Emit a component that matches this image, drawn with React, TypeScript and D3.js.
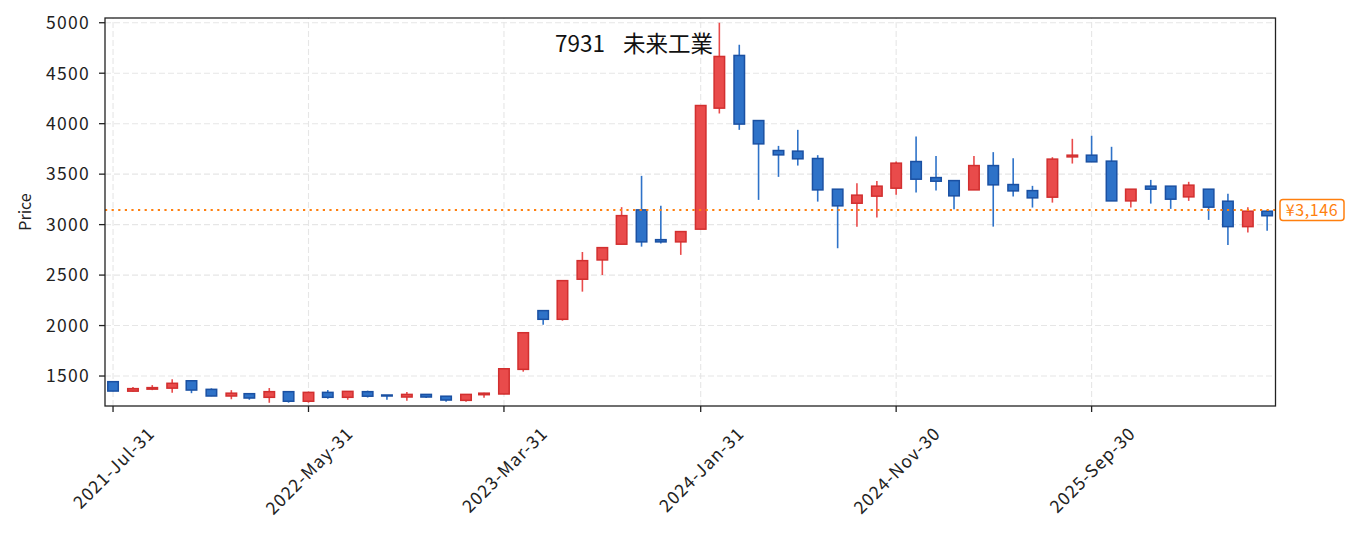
import * as d3 from "d3";
import {useEffect, useRef} from "react";

// monthly candles, month-end dates
const dates = [
    "2021-07-31", "2021-08-31", "2021-09-30", "2021-10-31", "2021-11-30", "2021-12-31",
    "2022-01-31", "2022-02-28", "2022-03-31", "2022-04-30", "2022-05-31", "2022-06-30",
    "2022-07-31", "2022-08-31", "2022-09-30", "2022-10-31", "2022-11-30", "2022-12-31",
    "2023-01-31", "2023-02-28", "2023-03-31", "2023-04-30", "2023-05-31", "2023-06-30",
    "2023-07-31", "2023-08-31", "2023-09-30", "2023-10-31", "2023-11-30", "2023-12-31",
    "2024-01-31", "2024-02-29", "2024-03-31", "2024-04-30", "2024-05-31", "2024-06-30",
    "2024-07-31", "2024-08-31", "2024-09-30", "2024-10-31", "2024-11-30", "2024-12-31",
    "2025-01-31", "2025-02-28", "2025-03-31", "2025-04-30", "2025-05-31", "2025-06-30",
    "2025-07-31", "2025-08-31", "2025-09-30", "2025-10-31", "2025-11-30", "2025-12-31",
    "2026-01-31", "2026-02-28", "2026-03-31", "2026-04-30", "2026-05-31", "2026-06-30"
];
const opens = [
    1444, 1350, 1370, 1380, 1453, 1368, 1302, 1325, 1289, 1345, 1250, 1338,
    1289, 1345, 1312, 1292, 1318, 1300, 1259, 1315, 1322, 1566, 2148, 2062,
    2459, 2650, 2806, 3146, 2851, 2829, 2955, 4154, 4676, 4031, 3734, 3728,
    3655, 3351, 3212, 3282, 3361, 3625, 3466, 3436, 3344, 3585, 3397, 3337,
    3272, 3671, 3688, 3629, 3235, 3381, 3381, 3275, 3351, 3232, 2980, 3133
];
const highs = [
    1450, 1390, 1410, 1467, 1455, 1378, 1360, 1325, 1381, 1345, 1345, 1361,
    1350, 1355, 1312, 1341, 1318, 1300, 1318, 1335, 1575, 1930, 2148, 2445,
    2729, 2772, 3173, 3483, 3186, 2931, 4180, 5000, 4782, 4031, 3780, 3939,
    3688, 3351, 3411, 3433, 3625, 3873, 3681, 3436, 3681, 3718, 3658, 3384,
    3668, 3850, 3880, 3771, 3351, 3443, 3381, 3424, 3351, 3305, 3173, 3146
];
const lows = [
    1350, 1345, 1360, 1335, 1330, 1300, 1270, 1265, 1235, 1236, 1236, 1275,
    1265, 1287, 1265, 1255, 1282, 1245, 1245, 1285, 1320, 1543, 2009, 2048,
    2336, 2501, 2806, 2782, 2812, 2700, 2955, 4101, 3939, 3245, 3473, 3585,
    3228, 2766, 2980, 3070, 3295, 3317, 3337, 3153, 3344, 2980, 3278, 3169,
    3218, 3605, 3622, 3235, 3169, 3208, 3156, 3235, 3047, 2799, 2921, 2940
];
const closes = [
    1351, 1375, 1385, 1428, 1361, 1302, 1330, 1282, 1345, 1250, 1338, 1289,
    1348, 1300, 1305, 1318, 1292, 1262, 1318, 1330, 1572, 1929, 2062, 2445,
    2643, 2772, 3089, 2829, 2829, 2931, 4180, 4666, 3996, 3800, 3691, 3652,
    3344, 3186, 3292, 3381, 3609, 3450, 3430, 3285, 3585, 3394, 3334, 3265,
    3649, 3688, 3622, 3235, 3351, 3351, 3252, 3391, 3173, 2980, 3133, 3088
];

const tickDates = ["2021-07-31", "2022-05-31", "2023-03-31", "2024-01-31", "2024-11-30", "2025-09-30"];
const tickLabels = ["2021-Jul-31", "2022-May-31", "2023-Mar-31", "2024-Jan-31", "2024-Nov-30", "2025-Sep-30"];
const yTicks = [1500, 2000, 2500, 3000, 3500, 4000, 4500, 5000];
const lastPrice = 3146;
const titleCode = "7931";
const titleName = "未来工業";

const upFill = "#e94b4b", upEdge = "#d22f2f";
const downFill = "#2e72c8", downEdge = "#1a50a2";
const font = "'Noto Sans CJK JP', 'Noto Sans', sans-serif";

export default function App() {
    const svgRef = useRef(null);
    const width = 1355;
    const height = 537;
    const margin = {top: 18, right: 79.5, bottom: 131, left: 105};

    useEffect(() => {
        if (!svgRef.current) return;
        d3.select(svgRef.current).selectAll("*").remove();

        const svg = d3.select(svgRef.current)
            .attr("width", width)
            .attr("height", height);

        const parse = d3.utcParse("%Y-%m-%d");
        const data = dates.map((d, i) => ({
            date: parse(d) as Date,
            open: opens[i], high: highs[i], low: lows[i], close: closes[i]
        }));

        const day = 24 * 3600 * 1000;
        const x = d3.scaleUtc()
            .domain([new Date(+data[0].date - 12.5 * day), new Date(+data[data.length - 1].date + 13 * day)])
            .range([margin.left, width - margin.right]);
        const y = d3.scaleLinear()
            .domain([1203, 5047])
            .range([height - margin.bottom, margin.top]);

        const x0 = margin.left, x1 = width - margin.right;
        const y0 = height - margin.bottom, y1 = margin.top;

        // grid
        const grid = svg.append("g")
            .attr("stroke", "#e6e6e6")
            .attr("stroke-width", 1.1)
            .attr("stroke-dasharray", "6,3");
        grid.selectAll("line.h").data(yTicks).join("line")
            .attr("class", "h")
            .attr("x1", x0).attr("x2", x1)
            .attr("y1", d => y(d)).attr("y2", d => y(d));
        grid.selectAll("line.v").data(tickDates).join("line")
            .attr("class", "v")
            .attr("x1", d => x(parse(d) as Date)).attr("x2", d => x(parse(d) as Date))
            .attr("y1", y0).attr("y2", y1);

        // candles
        const bodyW = 10.5;
        const candles = svg.append("g");
        candles.selectAll("line").data(data).join("line")
            .attr("x1", d => x(d.date)).attr("x2", d => x(d.date))
            .attr("y1", d => y(d.high)).attr("y2", d => y(d.low))
            .attr("stroke", d => d.close >= d.open ? upFill : downFill)
            .attr("stroke-width", 1.6);
        candles.selectAll("rect").data(data).join("rect")
            .attr("x", d => x(d.date) - bodyW / 2)
            .attr("width", bodyW)
            .attr("y", d => y(Math.max(d.open, d.close)))
            .attr("height", d => Math.max(1, Math.abs(y(d.open) - y(d.close))))
            .attr("fill", d => d.close >= d.open ? upFill : downFill)
            .attr("stroke", d => d.close >= d.open ? upEdge : downEdge)
            .attr("stroke-width", 1.5);

        // last price line
        const py = y(lastPrice);
        svg.append("line")
            .attr("x1", x0).attr("x2", x1)
            .attr("y1", py).attr("y2", py)
            .attr("stroke", "#ff7f0e")
            .attr("stroke-width", 2)
            .attr("stroke-dasharray", "2.2,4.4");

        // frame
        svg.append("rect")
            .attr("x", x0).attr("y", y1)
            .attr("width", x1 - x0).attr("height", y0 - y1)
            .attr("fill", "none")
            .attr("stroke", "#222")
            .attr("stroke-width", 1.3);

        // y axis
        const yAxis = svg.append("g");
        yAxis.selectAll("line").data(yTicks).join("line")
            .attr("x1", x0 - 6).attr("x2", x0)
            .attr("y1", d => y(d)).attr("y2", d => y(d))
            .attr("stroke", "#222").attr("stroke-width", 1.3);
        yAxis.selectAll("text").data(yTicks).join("text")
            .attr("x", 90)
            .attr("y", d => y(d) + 6.3)
            .attr("text-anchor", "end")
            .attr("font-family", font)
            .attr("font-size", 17.5)
            .attr("letter-spacing", 1.3)
            .attr("fill", "#222")
            .text(d => d);

        // x axis
        const xAxis = svg.append("g");
        xAxis.selectAll("line").data(tickDates).join("line")
            .attr("x1", d => x(parse(d) as Date)).attr("x2", d => x(parse(d) as Date))
            .attr("y1", y0).attr("y2", y0 + 6)
            .attr("stroke", "#222").attr("stroke-width", 1.3);
        xAxis.selectAll("text").data(tickDates).join("text")
            .attr("text-anchor", "middle")
            .attr("dominant-baseline", "central")
            .attr("font-family", font)
            .attr("font-size", 17.5)
            .attr("letter-spacing", 1)
            .attr("fill", "#222")
            .text((d, i) => tickLabels[i])
            .attr("transform", function (d) {
                const len = (this as SVGTextElement).getComputedTextLength();
                const cy = 425 + (len + 12.5) * 0.3536;
                return `translate(${x(parse(d) as Date)},${cy}) rotate(-45)`;
            });

        // y label
        svg.append("text")
            .attr("transform", `translate(31,${(y0 + y1) / 2}) rotate(-90)`)
            .attr("text-anchor", "middle")
            .attr("font-family", font)
            .attr("font-size", 16)
            .attr("fill", "#222")
            .text("Price");

        // title
        const t = svg.append("text")
            .attr("y", 52)
            .attr("font-family", font)
            .attr("font-size", 22.5)
            .attr("fill", "#111");
        t.append("tspan").attr("x", 555).text(titleCode);
        t.append("tspan").attr("x", 623).text(titleName);

        // last price label
        const label = svg.append("g");
        label.append("rect")
            .attr("x", 1280).attr("y", py - 10.5)
            .attr("width", 64).attr("height", 21)
            .attr("rx", 3)
            .attr("fill", "white")
            .attr("stroke", "#ff7f0e")
            .attr("stroke-width", 1.5);
        label.append("text")
            .attr("x", 1312).attr("y", py + 6)
            .attr("text-anchor", "middle")
            .attr("font-family", font)
            .attr("font-size", 16)
            .attr("letter-spacing", 0.6)
            .attr("fill", "#ff7f0e")
            .text("¥" + d3.format(",")(lastPrice));
    }, []);

    return (
        <svg ref={svgRef} style={{position: "absolute", left: 0, top: 0, display: "block"}}></svg>
    );
}
